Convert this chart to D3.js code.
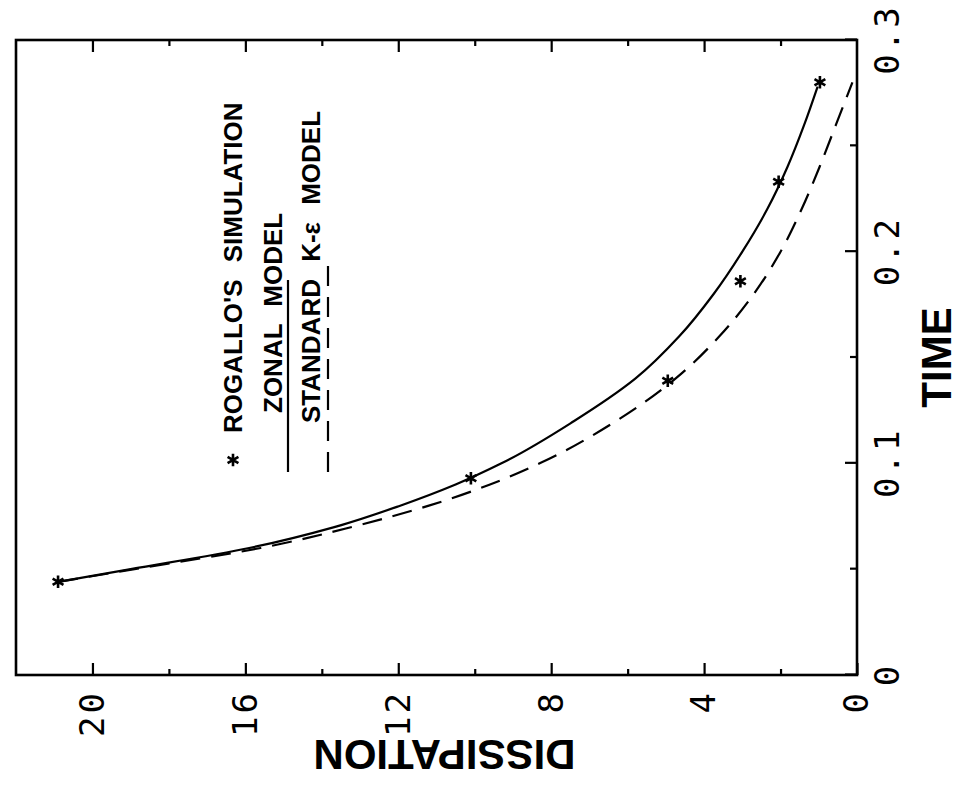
<!DOCTYPE html>
<html>
<head>
<meta charset="utf-8">
<script src="https://cdn.jsdelivr.net/npm/d3@7/dist/d3.min.js"></script>
<style>
  html, body { margin: 0; padding: 0; background: #fff; }
  svg { display: block; }
  .tick text { font-family: "DejaVu Sans Mono", monospace; font-size: 34px; letter-spacing: 3px; fill: #000; }
  .title { font-family: "Liberation Sans", Arial, sans-serif; font-weight: bold; font-size: 42px; fill: #000; }
  .legend { font-family: "Liberation Sans", Arial, sans-serif; font-weight: bold; font-size: 26px; fill: #000; white-space: pre; }
</style>
</head>
<body>
<script>
// Decay of dissipation with time: simulation points and two model curves.
const timeTicks = [0, 0.1, 0.2, 0.3];
const timeMinor = [0.05, 0.15, 0.25];
const dissTicks = [0, 4, 8, 12, 16, 20];
const dissMinor = [2, 6, 10, 14, 18];

// Rogallo's simulation (asterisks)
const simTime = [0.044, 0.093, 0.139, 0.186, 0.233, 0.280];
const simDiss = [20.9, 10.1, 4.95, 3.05, 2.05, 0.97];

// Zonal model (solid)
const zonalTime = [0.044, 0.05, 0.06, 0.07, 0.08, 0.09, 0.10, 0.12, 0.14, 0.16, 0.18, 0.20, 0.22, 0.24, 0.26, 0.278];
const zonalDiss = [20.9, 19.0, 15.9, 13.65, 11.95, 10.5, 9.3, 7.4, 5.8, 4.65, 3.75, 3.0, 2.35, 1.82, 1.38, 1.03];

// Standard k-epsilon model (dashed)
const kepsTime = [0.044, 0.05, 0.06, 0.07, 0.08, 0.09, 0.10, 0.12, 0.14, 0.16, 0.18, 0.20, 0.22, 0.24, 0.26, 0.28];
const kepsDiss = [20.9, 18.9, 15.6, 13.2, 11.2, 9.6, 8.3, 6.3, 4.75, 3.6, 2.7, 2.0, 1.45, 0.98, 0.55, 0.12];

const W = 961, H = 789;
const svg = d3.select("body").append("svg").attr("width", W).attr("height", H);

// The plot is laid out in its own frame and turned a quarter turn counter-clockwise.
const g = svg.append("g").attr("transform", `translate(0,${H}) rotate(-90)`);

const x = d3.scaleLinear().domain([0, 0.3]).range([114, 749]);
const y = d3.scaleLinear().domain([0, 22]).range([857, 16]);

const ink = "#000";

// frame
g.append("rect")
  .attr("x", x(0)).attr("y", y(22))
  .attr("width", x(0.3) - x(0)).attr("height", y(0) - y(22))
  .attr("fill", "none").attr("stroke", ink).attr("stroke-width", 2.6);

function styleAxis(sel) {
  sel.select(".domain").remove();
  sel.selectAll(".tick line").attr("stroke", ink).attr("stroke-width", 2.2);
}

// time axis
g.append("g").attr("transform", `translate(0,${y(0)})`)
  .call(d3.axisBottom(x).tickValues(timeTicks).tickSize(-12).tickPadding(18)
    .tickFormat(d => d === 0 ? "0" : d3.format(".1f")(d)))
  .call(styleAxis);
g.append("g").attr("transform", `translate(0,${y(0)})`)
  .call(d3.axisBottom(x).tickValues(timeMinor).tickSize(-7).tickFormat(""))
  .call(styleAxis);

// dissipation axis, with mirrored ticks on the far side
g.append("g").attr("transform", `translate(${x(0)},0)`)
  .call(d3.axisLeft(y).tickValues(dissTicks).tickSize(-12).tickPadding(15))
  .call(styleAxis);
g.append("g").attr("transform", `translate(${x(0)},0)`)
  .call(d3.axisLeft(y).tickValues(dissMinor).tickSize(-6).tickFormat(""))
  .call(styleAxis);
g.append("g").attr("transform", `translate(${x(0.3)},0)`)
  .call(d3.axisRight(y).tickValues(dissTicks.filter(d => d > 0)).tickSize(-12).tickFormat(""))
  .call(styleAxis);
g.append("g").attr("transform", `translate(${x(0.3)},0)`)
  .call(d3.axisRight(y).tickValues(dissMinor).tickSize(-6).tickFormat(""))
  .call(styleAxis);

// axis titles
g.append("text").attr("class", "title")
  .attr("x", (x(0) + x(0.3)) / 2).attr("y", 951)
  .attr("text-anchor", "middle").text("TIME");
g.append("text").attr("class", "title")
  .attr("transform", `translate(49,${(y(0) + y(22)) / 2 + 8}) rotate(-90)`)
  .attr("text-anchor", "middle").text("DISSIPATION");

// model curves
const line = d3.line().x(d => x(d[0])).y(d => y(d[1])).curve(d3.curveMonotoneX);
g.append("path").datum(d3.zip(zonalTime, zonalDiss))
  .attr("d", line).attr("fill", "none").attr("stroke", ink).attr("stroke-width", 2.2);
g.append("path").datum(d3.zip(kepsTime, kepsDiss))
  .attr("d", line).attr("fill", "none").attr("stroke", ink).attr("stroke-width", 2.2)
  .attr("stroke-dasharray", "20 11");

// simulation points
const star = d3.symbol().type(d3.symbolAsterisk).size(110);
g.selectAll(".sim").data(d3.zip(simTime, simDiss)).join("path")
  .attr("class", "sim")
  .attr("transform", d => `translate(${x(d[0])},${y(d[1])}) rotate(90)`)
  .attr("d", star).attr("fill", "none").attr("stroke", ink).attr("stroke-width", 2.6);

// legend
const lg = g.append("g");
lg.append("path")
  .attr("transform", "translate(329,233) rotate(90)")
  .attr("d", star).attr("fill", "none").attr("stroke", ink).attr("stroke-width", 2.6);
lg.append("text").attr("class", "legend").attr("x", 356).attr("y", 242)
  .attr("word-spacing", 10).text("ROGALLO'S SIMULATION");
lg.append("text").attr("class", "legend").attr("x", 376).attr("y", 282)
  .attr("word-spacing", 10).text("ZONAL MODEL");
lg.append("line").attr("x1", 317).attr("x2", 509).attr("y1", 288).attr("y2", 288)
  .attr("stroke", ink).attr("stroke-width", 2.2);
lg.append("text").attr("class", "legend").attr("x", 366).attr("y", 320)
  .attr("word-spacing", 10).text("STANDARD K-ε MODEL");
lg.append("line").attr("x1", 317).attr("x2", 532).attr("y1", 328).attr("y2", 328)
  .attr("stroke", ink).attr("stroke-width", 2.2).attr("stroke-dasharray", "20 11");
</script>
</body>
</html>
